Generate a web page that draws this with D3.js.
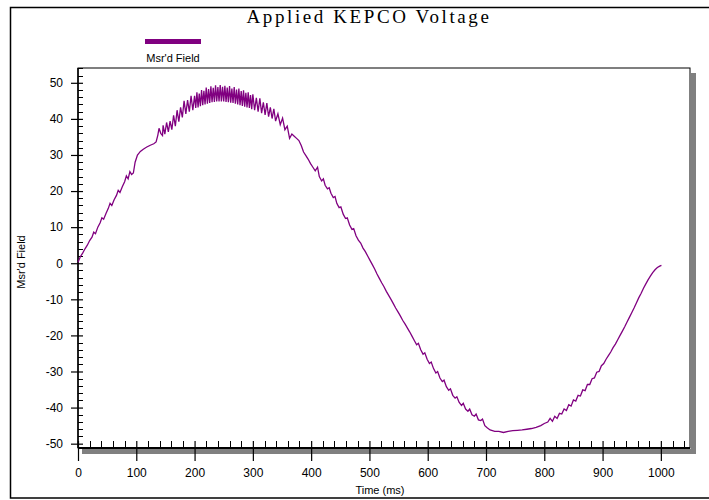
<!DOCTYPE html>
<html>
<head>
<meta charset="utf-8">
<script src="https://cdn.jsdelivr.net/npm/d3@7"></script>
<style>
  body { margin: 0; background: #fff; }
  svg { display: block; }
  .tick text { font-family: "Liberation Sans", Arial, sans-serif; font-size: 12px; fill: #000; }
</style>
</head>
<body>
<div id="chart"></div>
<script>
// Axis ticks (labels)
const xMajorTicks = [0, 100, 200, 300, 400, 500, 600, 700, 800, 900, 1000];
const yMajorTicks = [-50, -40, -30, -20, -10, 0, 10, 20, 30, 40, 50];

// Msr'd Field trace: [time (ms), field]
const risePart = [
  [0, 0.3], [4, 1.8], [8, 2.8], [12, 4.0], [16, 5.0], [20, 6.3], [24, 7.2], [27, 8.6], [30, 8.2],
  [34, 10.0], [38, 11.2], [41, 12.6], [44, 12.2], [48, 13.8], [52, 15.2], [55, 16.6], [58, 16.0],
  [62, 17.6], [66, 18.8], [69, 20.2], [72, 19.6], [76, 21.2], [80, 22.6], [83, 24.2], [86, 23.4],
  [89, 25.4], [92, 24.6], [95, 25.0], [98, 28.0], [102, 30.0], [107, 31.0], [112, 31.6], [118, 32.2],
  [124, 32.7], [130, 33.1], [134, 33.6], [137, 35.5], [139, 37.4], [142, 36.0], [145, 35.4]
];

// ripple band around the peak (alternating high / low)
const peakPart = [
  [146, 38.2], [149, 35.8], [152, 39.0], [155, 36.4], [158, 39.4], [161, 37.0], [164, 41.0], [167, 38.0],
  [170, 42.4], [173, 39.2], [176, 43.2], [179, 40.4], [182, 45.0], [185, 41.4], [188, 45.2], [191, 42.0],
  [194, 46.4], [197, 42.4], [200, 46.4], [202, 43.0], [204, 47.4], [206, 43.2], [208, 47.0], [210, 43.5],
  [212, 48.0], [214, 43.8], [216, 47.8], [218, 44.0], [220, 48.7], [222, 44.2], [224, 48.3], [226, 44.4],
  [228, 49.0], [230, 44.6], [232, 48.6], [234, 44.7], [236, 49.3], [238, 44.8], [240, 48.8], [242, 44.8],
  [244, 49.4], [246, 44.8], [248, 48.9], [250, 44.8], [252, 49.2], [254, 44.7], [256, 48.7], [258, 44.6],
  [260, 49.1], [262, 44.5], [264, 48.4], [266, 44.4], [268, 48.8], [270, 44.2], [272, 48.1], [274, 44.0],
  [276, 48.4], [278, 43.8], [280, 47.7], [282, 43.6], [284, 47.9], [286, 43.4], [288, 47.2], [290, 43.2],
  [292, 47.4], [294, 43.0], [296, 46.6], [298, 42.7], [300, 46.8], [303, 42.4], [306, 45.8], [309, 42.0],
  [312, 45.7], [315, 41.6], [318, 44.6], [321, 41.1], [324, 44.4], [327, 40.6], [330, 43.2], [333, 40.1],
  [336, 42.8], [339, 39.4], [343, 41.4], [347, 38.4], [351, 40.2], [355, 37.0], [359, 38.0]
];

const fallPart = [
  [363, 34.6], [367, 35.8], [371, 35.2], [375, 34.6], [379, 34.0], [383, 32.6], [387, 30.8], [391, 29.8],
  [395, 28.8], [399, 27.6], [403, 26.6], [407, 25.6], [411, 26.6], [414, 24.0], [418, 22.8], [421, 23.4],
  [424, 21.6], [428, 20.6], [431, 20.9], [434, 19.4], [438, 18.2], [441, 18.5], [444, 16.6], [448, 15.4],
  [451, 15.6], [455, 13.6], [459, 12.4], [462, 12.6], [466, 10.6], [470, 9.4], [473, 9.6], [477, 7.6],
  [481, 6.4], [485, 5.6], [489, 4.2], [493, 3.2], [497, 2.0], [501, 0.8], [505, -0.4], [509, -1.6],
  [513, -3.0], [517, -4.2], [521, -5.4], [525, -6.5], [529, -7.8], [533, -8.9], [537, -10.0], [541, -11.2],
  [545, -12.4], [549, -13.5], [553, -14.6], [557, -15.8], [561, -16.8], [565, -17.9], [569, -19.0],
  [573, -20.2], [577, -21.4], [581, -22.6], [584, -22.2], [588, -24.0], [592, -25.2], [595, -24.8],
  [599, -26.6], [603, -27.8], [606, -27.4], [610, -29.2], [614, -30.4], [617, -30.0], [621, -31.8],
  [625, -32.8], [628, -32.4], [632, -34.2], [636, -35.2], [639, -34.8], [643, -36.6], [647, -37.4],
  [650, -37.0], [654, -38.6], [658, -39.4], [661, -38.8], [665, -40.4], [669, -41.0], [672, -40.4],
  [676, -42.0], [680, -42.4], [683, -41.8], [687, -43.4], [691, -43.6], [694, -43.2], [698, -45.0],
  [702, -45.6], [707, -46.2]
];

const troughAndRisePart = [
  [715, -46.6], [722, -46.6], [730, -46.9], [738, -46.6], [746, -46.4], [754, -46.3], [762, -46.2],
  [770, -46.0], [778, -45.8], [786, -45.5], [794, -45.0], [800, -44.4], [806, -44.0], [810, -43.0],
  [814, -43.8], [818, -42.4], [822, -43.0], [826, -41.6], [830, -41.8], [834, -40.4], [838, -40.8],
  [842, -39.2], [846, -39.6], [850, -37.9], [854, -38.2], [858, -36.6], [862, -36.8], [866, -35.1],
  [870, -35.3], [874, -33.6], [878, -33.6], [882, -32.0], [886, -31.8], [890, -30.2], [894, -30.0],
  [898, -28.4], [902, -27.8], [906, -26.6], [910, -25.6], [914, -24.6], [918, -23.4], [922, -22.4],
  [926, -21.2], [930, -20.0], [934, -18.8], [938, -17.6], [942, -16.3], [946, -15.0], [950, -13.7],
  [954, -12.4], [958, -11.0], [962, -9.6], [966, -8.4], [970, -7.0], [974, -5.8], [978, -4.6],
  [982, -3.6], [986, -2.6], [990, -1.8], [994, -1.2], [998, -0.8], [1001, -0.6]
];

const msrdField = risePart.concat(peakPart, fallPart, troughAndRisePart);

const W = 709, H = 500;
const plot = { left: 78, top: 68, right: 690, bottom: 448 };
const purple = "#800080";

const svg = d3.select("#chart").append("svg").attr("width", W).attr("height", H);

// outer frame
svg.append("rect")
  .attr("x", 10.5).attr("y", 7.5).attr("width", 720).attr("height", 490.5)
  .attr("fill", "none").attr("stroke", "#000").attr("stroke-width", 1.5);

// title
svg.append("text")
  .attr("x", 369).attr("y", 23)
  .attr("text-anchor", "middle")
  .style("font-family", "'Liberation Serif', 'Times New Roman', serif")
  .style("font-size", "19px")
  .style("letter-spacing", "2.6px")
  .text("Applied KEPCO Voltage");

// legend
svg.append("rect")
  .attr("x", 145).attr("y", 39).attr("width", 56).attr("height", 5)
  .attr("fill", purple);
svg.append("text")
  .attr("x", 173).attr("y", 62)
  .attr("text-anchor", "middle")
  .style("font-family", "'Liberation Sans', Arial, sans-serif")
  .style("font-size", "11px")
  .text("Msr'd Field");

const x = d3.scaleLinear().domain([0, 1050]).range([plot.left, plot.right]);
const y = d3.scaleLinear().domain([-51.2, 54.1]).range([plot.bottom, plot.top]);

// drop shadow on right and bottom of plot frame
svg.append("rect")
  .attr("x", plot.right + 1).attr("y", plot.top + 5)
  .attr("width", 5).attr("height", plot.bottom - plot.top)
  .attr("fill", "#808080");
svg.append("rect")
  .attr("x", plot.left + 4).attr("y", plot.bottom + 1)
  .attr("width", plot.right - plot.left + 2).attr("height", 5)
  .attr("fill", "#808080");

// plot frame
svg.append("rect")
  .attr("x", plot.left).attr("y", plot.top)
  .attr("width", plot.right - plot.left).attr("height", plot.bottom - plot.top)
  .attr("fill", "#fff").attr("stroke", "#000").attr("stroke-width", 1);

// minor ticks
const yMinor = d3.range(-50, 55, 2).filter(v => v % 10 !== 0);
svg.append("g").selectAll("line").data(yMinor).join("line")
  .attr("x1", plot.left).attr("x2", plot.left + 5)
  .attr("y1", d => Math.round(y(d)) + 0.5).attr("y2", d => Math.round(y(d)) + 0.5)
  .attr("stroke", "#000");

const xMinor = d3.range(20, 1050, 20).filter(v => v % 100 !== 0);
svg.append("g").selectAll("line").data(xMinor).join("line")
  .attr("x1", d => Math.round(x(d)) + 0.5).attr("x2", d => Math.round(x(d)) + 0.5)
  .attr("y1", plot.bottom).attr("y2", plot.bottom - 7)
  .attr("stroke", "#000");

// Y axis
const yAxis = svg.append("g")
  .attr("transform", "translate(" + plot.left + ",0)")
  .call(d3.axisLeft(y).tickValues(yMajorTicks).tickSize(7).tickPadding(8)
    .tickFormat(d => String(d)));
yAxis.select(".domain").remove();
yAxis.selectAll(".tick line").attr("x1", 5).attr("stroke-width", 1.2);

// X axis
const xAxis = svg.append("g")
  .attr("transform", "translate(0," + plot.bottom + ")")
  .call(d3.axisBottom(x).tickValues(xMajorTicks).tickSize(13).tickPadding(7)
    .tickFormat(d => String(d)));
xAxis.select(".domain").remove();
xAxis.selectAll(".tick line").attr("y1", -7).attr("stroke-width", 1.2);

// axis lines
svg.append("line")
  .attr("x1", plot.left).attr("x2", plot.right)
  .attr("y1", plot.bottom).attr("y2", plot.bottom)
  .attr("stroke", "#000").attr("stroke-width", 2);
svg.append("line")
  .attr("x1", plot.left).attr("x2", plot.left)
  .attr("y1", plot.top).attr("y2", plot.bottom)
  .attr("stroke", "#000").attr("stroke-width", 1.5);

// axis titles
svg.append("text")
  .attr("x", 380).attr("y", 494)
  .attr("text-anchor", "middle")
  .style("font-family", "'Liberation Sans', Arial, sans-serif")
  .style("font-size", "11px")
  .text("Time (ms)");
svg.append("text")
  .attr("transform", "translate(25,262) rotate(-90)")
  .attr("text-anchor", "middle")
  .style("font-family", "'Liberation Sans', Arial, sans-serif")
  .style("font-size", "11px")
  .text("Msr'd Field");

// trace
const line = d3.line().x(d => x(d[0])).y(d => y(d[1]));
svg.append("path")
  .datum(msrdField)
  .attr("d", line)
  .attr("fill", "none")
  .attr("stroke", purple)
  .attr("stroke-width", 1.3)
  .attr("stroke-linejoin", "miter");
</script>
</body>
</html>
